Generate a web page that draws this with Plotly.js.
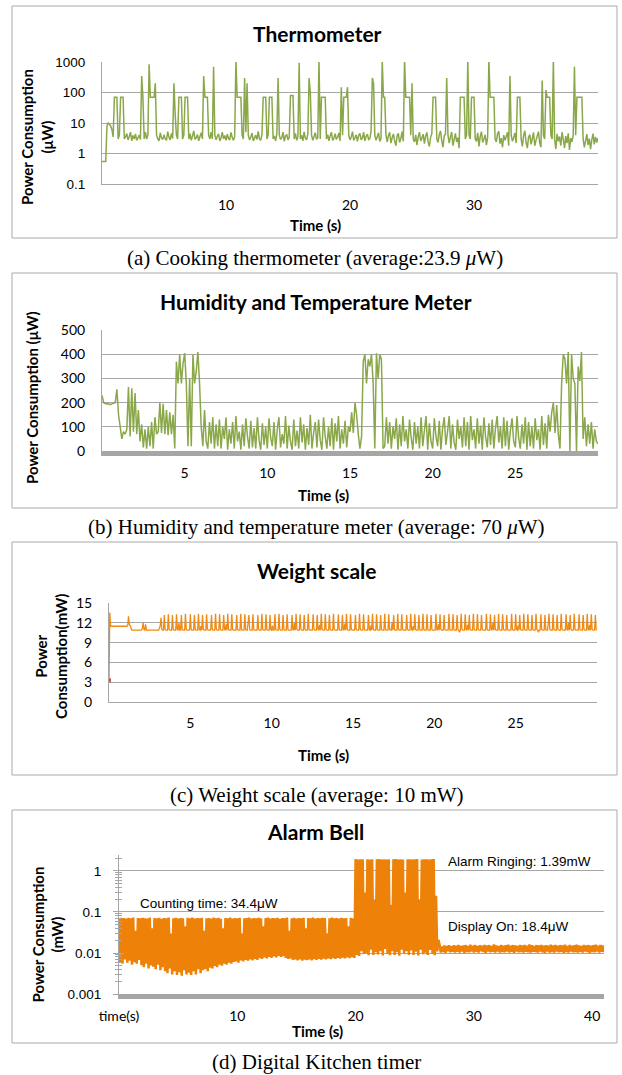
<!DOCTYPE html>
<html>
<head>
<meta charset="utf-8">
<script src="https://cdn.plot.ly/plotly-3.0.1.min.js"></script>
<style>
html,body{margin:0;padding:0;background:#fff;}
#chart{width:622px;height:1075px;}
</style>
</head>
<body>
<div id="chart"></div>
<script>
// ---------------- DATA ----------------
// (a) Cooking thermometer, power in µW, one sample every 0.1 s from 0 s
const thermoPower = [
0.55,0.55,0.55,0.55,8,10,9,8,6,3.5,
70,70,70,3,4,70,70,70,3,3.5,
4.5,2.8,3.6,5,2.6,3.9,3,4.4,2.7,3.3,
4,2.9,350,70,3,5,3,4,850,70,
70,70,70,200,4,3,2.6,4.8,3.2,2.9,
4.1,3,2.7,5.2,3.4,2.8,4.6,3.1,200,20,
4,3,70,70,70,3,4,70,70,70,
3,4.5,2.7,3.8,5.5,2.9,3.3,4.2,2.6,3.6,
4.8,3,350,70,70,70,4,3,5,3,
700,4,2.8,3.7,4.4,2.6,3.2,5,3,3.9,
2.7,4.3,3.1,2.8,4.9,3.4,2.7,3.6,1100,70,
70,70,70,4,3,300,5,200,4,2.8,
3.5,4.7,2.6,3.2,4,2.9,5.3,3,2.7,4.1,
70,70,70,3,4,70,70,70,3,3.8,
2.6,4.4,300,4,2.9,3.3,5,2.5,3.7,4.2,
2.8,3.4,80,80,80,3,4.6,2.7,3.5,950,
3,4,2.6,5.1,3.2,2.8,4.3,300,100,4,
2.7,3.6,4.8,2.9,3.3,1200,3,70,70,70,
70,3,4.2,2.6,3.8,5,2.7,3.1,4.5,2.9,
3.4,4.7,2.6,150,4,70,70,70,150,4,
2.8,3.5,5.2,2.7,3.3,4.1,2.5,3.9,4.6,2.8,
3.2,5,2.6,3.7,4.3,2.9,3.1,5.4,300,200,
4,2.7,3.6,4.8,2.5,3.2,1100,70,70,4,
2.4,3.9,5,2.2,3.3,4.4,2.6,1.8,3.8,4.6,
2.3,3.1,5.2,2.5,1200,70,70,70,70,4,
200,3,2.4,4.1,1.9,3.5,5,2.6,3.2,4.3,
2.1,3.7,4.9,2.4,1.7,3.4,4.5,70,70,70,
3,2.3,4.2,5.5,2.6,1.6,3.8,4.4,300,4,
2.2,3.5,5.1,1.8,2.9,4.6,2.4,3.3,1.5,70,
70,70,70,3,4,1100,4,3,70,70,
70,3,2.5,4.8,1.7,3.6,5.2,2.3,3,4.1,
1.9,3.4,1200,70,70,70,70,3,2.4,4.5,
5.3,2.1,3.2,1.6,4,2.7,3.6,5,1.8,350,
4,2.5,3.3,4.7,2.2,70,70,70,3,1.7,
3.9,5.6,2.3,1.5,3.4,4.2,2,3.1,4.9,1.8,
2.7,3.8,5.2,2.2,1.6,250,4,3,120,70,
70,70,4,3,1200,3,1.4,4.4,2.5,3.6,
1.8,5,2.9,1.5,3.7,2.2,4.6,1.3,3.2,2.4,
4.1,700,4,70,70,70,70,70,3,1.6,
2.6,4.3,1.9,3.1,1.4,2.8,4.5,2,3.5,2.3,
3.2];
const thermoTickVals = [10, 20, 30];
const thermoPowerTicks = [0.1, 1, 10, 100, 1000];
const thermoPowerTickText = ['0.1', '1', '10', '100', '1000'];

// (b) Humidity and temperature meter, power in µW, one sample every 0.1 s
const humidityPower = [
230,200,197,195,196,192,195,198,200,255,
150,100,50,80,70,90,265,60,260,80,
240,70,170,40,110,15,90,10,100,20,
120,10,140,70,80,200,75,195,70,170,
65,160,70,150,10,370,280,400,280,360,
405,280,20,300,20,400,280,330,410,280,
100,20,170,40,10,120,30,140,10,110,
20,130,10,100,50,140,5,90,30,120,
10,145,40,80,5,110,20,135,60,10,
125,15,95,10,140,45,5,115,25,100,
10,135,55,20,120,5,90,140,15,70,
30,145,10,105,40,5,130,20,85,10,
140,35,110,5,95,25,150,10,75,120,
15,130,45,5,140,60,10,100,20,135,
5,115,40,145,10,90,30,125,15,100,
80,160,75,200,150,70,10,60,370,400,
280,380,350,400,280,10,405,300,400,380,
10,20,140,30,120,10,100,50,135,5,
110,20,145,40,90,10,130,55,5,120,
30,100,10,140,20,85,145,5,115,40,
10,135,60,20,125,5,95,140,25,80,
145,10,110,35,5,130,50,100,15,140,
20,120,5,145,45,90,10,135,30,105,
5,140,60,15,115,25,130,10,95,145,
35,100,10,140,20,125,5,85,135,40,
15,145,55,10,110,30,140,5,120,20,
100,10,135,45,90,5,145,25,115,10,
150,80,160,200,75,190,70,10,280,400,
380,280,410,0,400,300,280,0,350,290,
410,50,140,20,110,30,120,10,90,40,
30];
const humidityTickVals = [5, 10, 15, 20, 25];

// (c) Weight scale, power in mW, one sample every 0.05 s
const weightPower = [
3.3,13.6,11.5,11.5,11.5,11.5,11.5,11.5,11.5,11.5,11.5,11.5,11.5,11.5,11.5,11.5,11.5,11.5,11.5,11.5,
11.5,11.5,11.5,11.6,13,11.8,11.6,11.3,10.9,10.9,10.9,10.9,10.9,10.9,10.9,10.9,10.9,10.9,10.9,10.9,
10.9,11.2,12,11,10.9,11.8,10.9,10.9,10.9,10.9,10.9,10.9,10.9,10.9,10.9,10.9,10.9,10.9,10.9,10.9,
10.9,10.9,11.2,11.6,12.8,11,10.9,10.9,13.2,11,10.9,10.9,10.9,13.3,11,10.9,10.9,10.9,13.2,11,
10.9,10.9,10.9,13.3,11,10.9,12,10.9,10.9,13.2,11,10.9,10.9,10.9,13.4,11,10.9,10.9,10.9,10.9,
13.3,11,10.9,10.9,10.9,13.2,11,10.9,10.9,10.9,13.4,11,10.9,11.5,10.9,13.2,11,10.9,10.9,10.9,
13.3,11,10.9,10.9,10.9,10.9,13.2,11,10.9,10.9,10.9,13.4,11,10.9,10.9,10.9,13.3,11,10.9,10.9,
10.9,13.2,11,10.9,11.8,10.9,13.4,11,10.9,10.9,10.9,13.3,11,10.9,10.9,10.9,10.9,13.2,11,10.9,
10.9,10.9,13.4,11,10.9,10.9,10.9,13.3,11,10.9,10.9,12.1,13.2,11,10.9,10.9,10.9,13.3,11,10.9,
10.9,10.9,10.9,13.2,11,10.9,10.9,10.9,13.4,11,10.9,10.9,10.9,13.3,11,10.9,10.9,10.9,13.2,11,
10.9,11.6,10.9,10.9,13.3,11,10.9,10.9,10.9,13.4,11,10.9,10.9,10.9,13.2,11,10.9,10.9,10.9,13.3,
11,10.9,10.9,10.9,10.9,13.2,11,10.9,12,10.9,13.4,11,10.9,10.9,10.9,13.3,11,10.9,10.9,10.9,
13.2,11,10.9,10.9,10.9,13.4,11,10.9,10.9,10.9,10.9,13.3,11,10.9,10.9,10.9,13.2,11,10.9,11.7,
10.9,13.4,11,10.9,10.9,10.9,13.3,11,10.9,10.9,10.9,13.2,11,10.9,10.9,10.9,13.4,11,10.9,10.9,
10.9,10.9,13.3,11,10.9,10.9,10.9,13.2,11,10.9,11.9,10.9,13.4,11,10.9,10.9,10.9,13.3,11,10.9,
10.9,10.9,10.9,13.2,11,10.9,10.9,10.9,13.4,11,10.9,10.9,10.9,13.3,11,10.9,10.9,10.9,10.9,13.2,
11,10.9,11.6,10.9,13.4,11,10.9,10.9,10.9,13.3,11,10.9,10.9,10.9,13.2,11,10.9,10.9,10.9,13.4,
11,10.9,10.9,10.9,13.3,11,10.9,10.9,12,10.9,13.2,11,10.9,10.9,10.9,13.4,11,10.9,10.9,10.9,
13.3,11,10.9,10.9,10.9,10.9,13.2,11,10.9,10.9,10.9,13.4,11,10.9,11.5,10.9,13.3,11,10.9,10.9,
10.9,13.2,11,10.9,10.9,10.9,13.4,11,10.9,10.9,10.9,13.3,11,10.9,10.9,10.9,13.2,11,10.9,10.9,
10.9,10.9,13.4,11,10.9,11.8,10.9,13.3,11,10.9,10.9,10.9,13.2,11,10.9,10.9,10.9,10.9,13.4,11,
10.9,10.9,10.9,13.3,11,10.9,10.9,10.9,13.2,11,10.9,10.6,10.9,13.4,11,10.9,10.9,10.9,13.3,11,
10.9,11.7,10.9,13.2,11,10.9,10.9,10.9,13.4,11,10.9,10.9,10.9,13.3,11,10.9,10.9,10.9,13.2,11,
10.9,10.9,10.9,10.9,13.4,11,10.9,10.9,10.9,13.3,11,10.9,12,10.9,13.2,11,10.9,10.9,10.9,13.4,
11,10.9,10.9,10.9,13.3,11,10.9,10.9,10.9,13.2,11,10.9,10.9,10.9,10.9,13.4,11,10.9,10.9,10.9,
13.3,11,10.9,11.6,10.9,13.2,11,10.9,10.9,10.9,13.4,11,10.9,10.9,10.9,13.3,11,10.9,10.9,10.9,
13.2,11,10.9,10.9,10.9,13.4,11,10.9,10.6,10.9,10.9,13.3,11,10.9,10.9,10.9,13.2,11,10.9,10.9,
11.8,13.4,11,10.9,10.9,10.9,13.3,11,10.9,10.9,10.9,13.2,11,10.9,10.9,10.9,13.4,11,10.9,10.9,
10.9,10.9,13.3,11,10.9,12,10.9,13.2,11,10.9,10.9,10.9,13.4,11,10.9,10.9,10.9,10.9,13.3,11,
10.9,10.9,10.9,13.2,11,10.9,10.9,10.9,13.4,11,10.9,11.7,10.9,13.3,11,10.9,10.9,10.9,13.2,11,
10.9];
const weightTickVals = [5, 10, 15, 20, 25];
const weightPowerTicks = [0, 3, 6, 9, 12, 15];

// (d) Digital kitchen timer (alarm bell), power in mW, one sample every 0.1 s
const alarmPower = [
0.07,0.006,0.072,0.0055,0.071,0.007,0.069,0.0058,0.072,0.0065,
0.07,0.0052,0.073,0.006,0.035,0.0055,0.071,0.0068,0.07,0.005,
0.072,0.0045,0.07,0.0055,0.069,0.0042,0.073,0.005,0.04,0.0046,
0.071,0.004,0.07,0.0052,0.072,0.0038,0.068,0.0045,0.071,0.0036,
0.07,0.0032,0.073,0.0042,0.03,0.003,0.07,0.0036,0.072,0.0029,
0.069,0.0034,0.071,0.0028,0.07,0.0038,0.045,0.003,0.072,0.0033,
0.07,0.0029,0.073,0.0036,0.069,0.003,0.071,0.004,0.07,0.0032,
0.072,0.0038,0.035,0.0041,0.07,0.0036,0.071,0.0044,0.069,0.0042,
0.073,0.0048,0.07,0.0045,0.072,0.0052,0.068,0.0049,0.04,0.0055,
0.071,0.0052,0.07,0.0058,0.073,0.0055,0.069,0.006,0.071,0.0062,
0.07,0.0058,0.072,0.0066,0.03,0.0062,0.07,0.0068,0.071,0.0065,
0.073,0.007,0.069,0.0066,0.071,0.0072,0.07,0.0068,0.072,0.0075,
0.07,0.0072,0.045,0.0078,0.071,0.0074,0.073,0.008,0.069,0.0076,
0.071,0.0082,0.07,0.0078,0.072,0.0085,0.068,0.008,0.071,0.0083,
0.07,0.0076,0.073,0.0072,0.035,0.0074,0.07,0.0068,0.072,0.007,
0.069,0.0066,0.071,0.007,0.07,0.0065,0.072,0.0069,0.04,0.0067,
0.071,0.007,0.07,0.0066,0.073,0.0071,0.069,0.0068,0.071,0.0072,
0.07,0.0069,0.072,0.0073,0.071,0.007,0.03,0.0074,0.07,0.0071,
0.073,0.0075,0.07,0.0072,0.071,0.0076,0.069,0.0073,0.072,0.0077,
0.07,0.0074,0.071,0.0078,0.045,0.0075,0.072,0.0079,0.07,0.0076,
1.95,0.009,1.9,0.0085,1.93,0.011,1.92,0.0095,0.3,0.01,
1.94,0.0088,1.9,0.012,1.93,0.009,0.2,0.0105,1.92,0.0092,
1.95,0.011,1.91,0.0087,1.93,0.0125,1.9,0.0095,1.94,0.0088,
0.15,0.011,1.92,0.009,1.95,0.0105,1.9,0.0086,1.93,0.012,
1.91,0.0094,0.3,0.011,1.94,0.0089,1.92,0.0115,1.9,0.009,
1.93,0.0108,1.95,0.0087,0.2,0.012,1.91,0.0093,1.94,0.0102,
1.92,0.0089,1.9,0.0118,1.93,0.0095,1.95,0.0088,0.25,0.011,
0.021,0.016,0.0102,0.0145,0.0106,0.0152,0.0101,0.0148,0.011,0.0155,
0.0104,0.0147,0.0108,0.0155,0.0102,0.015,0.0107,0.0158,0.0103,0.0149,
0.0109,0.0153,0.0101,0.0156,0.0106,0.0148,0.0104,0.016,0.0108,0.0151,
0.0103,0.0157,0.0107,0.0149,0.0102,0.0155,0.011,0.015,0.0105,0.0158,
0.0101,0.0152,0.0108,0.0156,0.0104,0.0149,0.0107,0.0162,0.0103,0.0153,
0.0109,0.0148,0.0102,0.0157,0.0106,0.0151,0.0104,0.0155,0.0108,0.016,
0.0103,0.015,0.0107,0.0156,0.0101,0.0153,0.0109,0.0149,0.0104,0.0158,
0.0106,0.0152,0.0102,0.0157,0.0108,0.015,0.0104,0.0161,0.0103,0.0154,
0.0107,0.0149,0.0105,0.0156,0.0102,0.0152,0.0109,0.0158,0.0104,0.015,
0.0101,0.0155,0.0108,0.0151,0.0103,0.016,0.0106,0.0153,0.0102,0.0157,
0.0109,0.015,0.0104,0.0156,0.0107,0.0152,0.0101,0.0159,0.0105,0.0149,
0.0103,0.0157,0.0108,0.0151,0.0104,0.0155,0.0106,0.016,0.0102,0.0153,
0.0107,0.0149,0.0103,0.0158,0.0109,0.0152,0.0105,0.0156,0.0101,0.015,
0.0106,0.0155,0.0104,0.0159,0.0108,0.0151,0.0103,0.0157,0.0107,0.0152,
0.0105];
const alarmTickVals = [0, 10, 20, 30, 40];
const alarmTickText = ['time(s)', '10', '20', '30', '40'];
const alarmPowerTicks = [0.001, 0.01, 0.1, 1];
const alarmPowerTickText = ['0.001', '0.01', '0.1', '1'];

// ---------------- LAYOUT HELPERS ----------------
const W = 622, H = 1075;
const dX = (a, b) => [a / W, b / W];
const dY = (top, bottom) => [1 - bottom / H, 1 - top / H];
const GRID = '#a6a6a6';
const CAL = 'Lato, "Open Sans", sans-serif';
const ARIAL = '"Liberation Sans", Arial, sans-serif';
const SERIF = '"Liberation Serif", "Times New Roman", serif';

function note(text, x, y, font, extra) {
  return Object.assign({
    text: text, x: x / W, y: 1 - y / H, xref: 'paper', yref: 'paper',
    showarrow: false, xanchor: 'center', yanchor: 'middle', font: font
  }, extra || {});
}
const titleFont = {family: CAL, size: 21, color: '#000', weight: 'bold'};
const axTitleFont = {family: CAL, size: 15, color: '#000', weight: 'bold'};
const capFont = {family: SERIF, size: 21, color: '#000'};
const calTick = {family: CAL, size: 14, color: '#000'};
const arialTick = {family: ARIAL, size: 13.5, color: '#000'};

const minorLog = [];
[0.001, 0.01, 0.1, 1].forEach(d => { for (let k = 2; k <= 9; k++) { const v = d * k; if (v < 2.45) minorLog.push(v); } });

const baseX = {showgrid: false, zeroline: false, showline: true, linecolor: GRID, linewidth: 1,
  tickmode: 'array', ticks: '', ticklabelstandoff: 8, fixedrange: true};
const baseY = {showgrid: true, gridcolor: GRID, gridwidth: 1, zeroline: false, showline: true,
  linecolor: GRID, linewidth: 1, tickmode: 'array', ticks: '', ticklabelstandoff: 13, fixedrange: true};

const layout = {
  width: W, height: H,
  margin: {l: 0, r: 0, t: 0, b: 0, pad: 0},
  paper_bgcolor: '#fff', plot_bgcolor: 'rgba(0,0,0,0)',
  showlegend: false,
  // (a)
  xaxis: Object.assign({}, baseX, {domain: dX(102, 598), anchor: 'y', range: [0, 40],
    tickvals: thermoTickVals, tickfont: calTick}),
  yaxis: Object.assign({}, baseY, {domain: dY(62, 184), anchor: 'x', type: 'log', range: [-1, 3.002],
    tickvals: thermoPowerTicks, ticktext: thermoPowerTickText, tickfont: arialTick}),
  // (b)
  xaxis2: Object.assign({}, baseX, {domain: dX(102, 598), anchor: 'y2', range: [0, 30],
    tickvals: humidityTickVals, tickfont: calTick, linewidth: 5, ticklabelstandoff: 5}),
  yaxis2: Object.assign({}, baseY, {domain: dY(330, 451), anchor: 'x2', range: [0, 501],
    tickvals: [0, 100, 200, 300, 400, 500], tickfont: calTick}),
  // (c)
  xaxis3: Object.assign({}, baseX, {domain: dX(109, 597), anchor: 'y3', range: [0, 30],
    tickvals: weightTickVals, tickfont: calTick}),
  yaxis3: Object.assign({}, baseY, {domain: dY(603, 702), anchor: 'x3', range: [0, 15.03],
    tickvals: weightPowerTicks, tickfont: calTick}),
  // (d)
  xaxis4: Object.assign({}, baseX, {domain: dX(119, 604), anchor: 'y4', range: [0, 41],
    tickvals: alarmTickVals, ticktext: alarmTickText, tickfont: calTick, linewidth: 5, ticklabelstandoff: 5}),
  yaxis4: Object.assign({}, baseY, {domain: dY(855, 994), anchor: 'x4', type: 'log', range: [-3, 0.39],
    tickvals: alarmPowerTicks, ticktext: alarmPowerTickText, tickfont: arialTick,
    ticks: 'outside', ticklen: 5, tickcolor: GRID, ticklabelstandoff: 9,
    minor: {tickmode: 'array', tickvals: minorLog, ticks: 'outside', ticklen: 3, tickcolor: GRID, showgrid: false}}),
  yaxis5: {overlaying: 'y4', anchor: 'x4', side: 'left', type: 'log', range: [-3, 0.39],
    tickmode: 'array', tickvals: alarmPowerTicks, ticks: 'inside', ticklen: 5, tickcolor: GRID,
    showticklabels: false, showgrid: false, zeroline: false, showline: false, fixedrange: true,
    minor: {tickmode: 'array', tickvals: minorLog, ticks: 'inside', ticklen: 3, tickcolor: GRID, showgrid: false}},
  shapes: [
    [6, 238], [273, 508], [542, 775], [810, 1043]
  ].map(([t, b]) => ({type: 'rect', xref: 'paper', yref: 'paper',
    x0: 12 / W, x1: 617 / W, y0: 1 - b / H, y1: 1 - t / H,
    line: {color: '#aaaaaa', width: 1}, fillcolor: 'rgba(0,0,0,0)', layer: 'below'})),
  annotations: [
    // (a)
    note('Thermometer', 317, 33.5, titleFont),
    note('Power Consumption<br>(μW)', 37, 137, axTitleFont, {textangle: -90}),
    note('Time (s)', 315.5, 225, axTitleFont),
    note('(a) Cooking thermometer (average:23.9 <i>μ</i>W)', 315, 258, capFont),
    // (b)
    note('Humidity and Temperature Meter', 316, 301, titleFont),
    note('Power Consumption (μW)', 32, 398, axTitleFont, {textangle: -90}),
    note('Time (s)', 323, 495, axTitleFont),
    note('(b) Humidity and temperature meter (average: 70 <i>μ</i>W)', 316.5, 526.5, capFont),
    // (c)
    note('Weight scale', 316.5, 570.5, titleFont),
    note('Power<br>Consumption(mW)', 51, 657, axTitleFont, {textangle: -90}),
    note('Time (s)', 323, 755, axTitleFont),
    note('(c) Weight scale (average: 10 mW)', 317, 795, capFont),
    // (d)
    note('Alarm Bell', 315, 831.5, titleFont),
    note('Power Consumption<br>(mW)', 47.5, 935, axTitleFont, {textangle: -90}),
    note('Time (s)', 317.5, 1031, axTitleFont),
    note('(d) Digital Kitchen timer', 316.5, 1062, capFont),
    note('Counting time: 34.4μW', 137.5, 903.5, arialTick, {xanchor: 'left'}),
    note('Alarm Ringing: 1.39mW', 445.5, 861, arialTick, {xanchor: 'left'}),
    note('Display On: 18.4μW', 445.5, 926, arialTick, {xanchor: 'left'})
  ]
};

const traces = [
  {type: 'scatter', mode: 'lines', x0: 0, dx: 0.1, y: thermoPower, xaxis: 'x', yaxis: 'y',
    line: {color: '#8aa84a', width: 1.5, simplify: false}, hoverinfo: 'skip'},
  {type: 'scatter', mode: 'lines', x0: 0, dx: 0.1, y: humidityPower, xaxis: 'x2', yaxis: 'y2',
    line: {color: '#8aa84a', width: 1.5, simplify: false}, hoverinfo: 'skip'},
  {type: 'scatter', mode: 'lines', x0: 0, dx: 0.05, y: weightPower, xaxis: 'x3', yaxis: 'y3',
    line: {color: '#f08a10', width: 1.3, simplify: false}, hoverinfo: 'skip'},
  {type: 'scatter', mode: 'markers', x0: 0, dx: 0.05, y: weightPower.slice(0, 1), xaxis: 'x3', yaxis: 'y3',
    marker: {color: '#d65a45', size: 4, symbol: 'square'}, hoverinfo: 'skip'},
  {type: 'scatter', mode: 'lines', x0: 0, dx: 0.1, y: alarmPower, xaxis: 'x4', yaxis: 'y4',
    line: {color: '#ee8208', width: 2.5, simplify: false}, hoverinfo: 'skip'},
  {type: 'scatter', mode: 'lines', x: [], y: [], xaxis: 'x4', yaxis: 'y5', hoverinfo: 'skip'}
];

Plotly.newPlot('chart', traces, layout, {displayModeBar: false, staticPlot: true});
</script>
</body>
</html>
